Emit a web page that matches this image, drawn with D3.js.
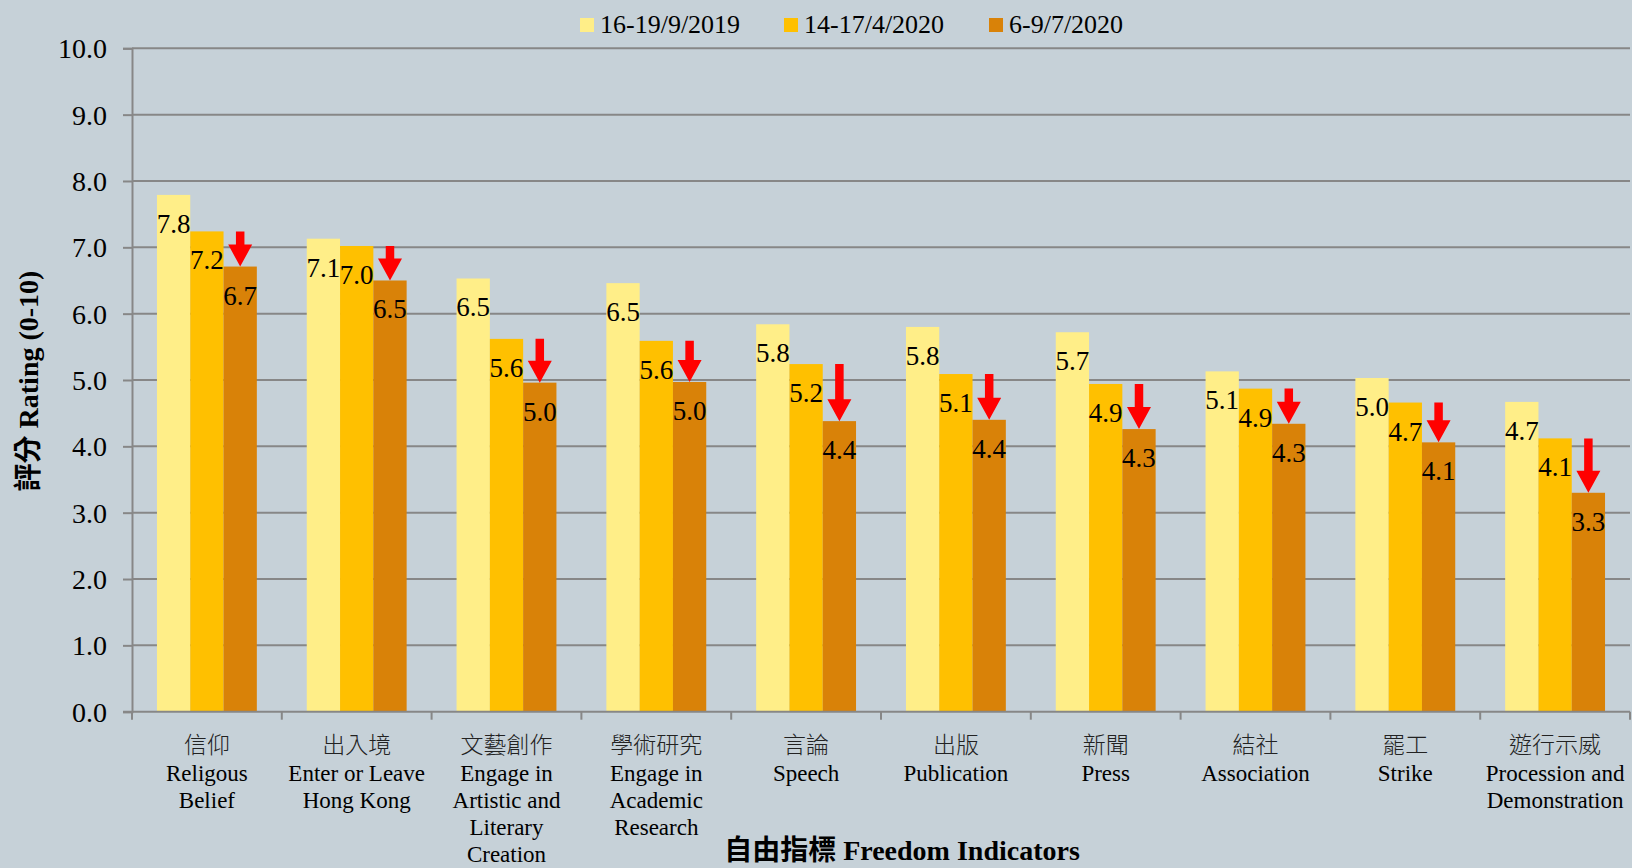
<!DOCTYPE html>
<html>
<head>
<meta charset="utf-8">
<script src="https://cdn.jsdelivr.net/npm/d3@7"></script>
<style>
  html, body { margin: 0; padding: 0; background: #c6d1d8; }
  svg { display: block; }
</style>
</head>
<body>
<div id="chart"></div>
<script>
// categories (zh / en lines)
const catZh = ['信仰', '出入境', '文藝創作', '學術研究', '言論', '出版', '新聞', '結社', '罷工', '遊行示威'];
const catEn = [
  ['Religous', 'Belief'],
  ['Enter or Leave', 'Hong Kong'],
  ['Engage in', 'Artistic and', 'Literary', 'Creation'],
  ['Engage in', 'Academic', 'Research'],
  ['Speech'],
  ['Publication'],
  ['Press'],
  ['Association'],
  ['Strike'],
  ['Procession and', 'Demonstration'],
];
const seriesNames = ['16-19/9/2019', '14-17/4/2020', '6-9/7/2020'];
const sep2019 = [7.79, 7.13, 6.53, 6.46, 5.84, 5.80, 5.72, 5.13, 5.03, 4.67];
const apr2020 = [7.24, 7.02, 5.62, 5.59, 5.24, 5.09, 4.94, 4.87, 4.66, 4.12];
const jul2020 = [6.71, 6.50, 4.96, 4.97, 4.38, 4.40, 4.26, 4.34, 4.06, 3.30];
const yTicks = [0, 1, 2, 3, 4, 5, 6, 7, 8, 9, 10];

const W = 1632, H = 868;
const COL = {
  bg: '#c6d1d8',
  bars: ['#ffee88', '#ffc000', '#d98208'],
  grid: '#878787',
  arrow: '#ff0000',
  text: '#000000',
};
const FONT = "'Liberation Serif', 'Times New Roman', 'Noto Sans CJK TC', serif";

const svg = d3.select('#chart').append('svg')
  .attr('width', W).attr('height', H)
  .style('font-family', FONT);

svg.append('rect').attr('width', W).attr('height', H).attr('fill', COL.bg);

const plot = { left: 132, right: 1630, top: 48.3, bottom: 711.7 };

const x0 = d3.scaleBand().domain(d3.range(catZh.length)).range([plot.left, plot.right]);
const bw = x0.bandwidth();
const x1 = d3.scaleBand().domain(d3.range(seriesNames.length)).range([bw / 6, bw * 5 / 6]);
const y = d3.scaleLinear().domain([0, 10]).range([plot.bottom, plot.top]);

const rows = catZh.map((c, i) => ({ i, vals: [sep2019[i], apr2020[i], jul2020[i]] }));

// Gridlines
svg.append('g').selectAll('line').data(yTicks.filter(t => t > 0)).enter().append('line')
  .attr('x1', plot.left).attr('x2', plot.right)
  .attr('y1', d => y(d)).attr('y2', d => y(d))
  .attr('stroke', COL.grid).attr('stroke-width', 2);

// Y axis
const yAxis = svg.append('g')
  .attr('transform', `translate(${plot.left},0)`)
  .call(d3.axisLeft(y).tickValues(yTicks).tickFormat(d3.format('.1f')).tickSize(9).tickPadding(16));
yAxis.select('.domain').attr('stroke', COL.grid).attr('stroke-width', 2);
yAxis.selectAll('.tick line').attr('stroke', COL.grid).attr('stroke-width', 2);
yAxis.selectAll('.tick text')
  .attr('font-size', 28).attr('font-family', FONT).attr('fill', COL.text).attr('dy', '0.34em');

// Bars
const groups = svg.append('g').selectAll('g').data(rows).enter().append('g')
  .attr('transform', d => `translate(${x0(d.i)},0)`);

groups.selectAll('rect').data(d => d.vals.map((v, k) => ({ v, k }))).enter().append('rect')
  .attr('x', d => x1(d.k))
  .attr('width', x1.bandwidth())
  .attr('y', d => y(d.v))
  .attr('height', d => y(0) - y(d.v))
  .attr('fill', d => COL.bars[d.k]);

// Value labels (inside end)
groups.selectAll('text.val').data(d => d.vals.map((v, k) => ({ v, k }))).enter().append('text')
  .attr('class', 'val')
  .attr('x', d => x1(d.k) + x1.bandwidth() / 2)
  .attr('y', d => y(d.v) + 38)
  .attr('text-anchor', 'middle')
  .attr('font-size', 27)
  .attr('fill', COL.text)
  .text(d => d3.format('.1f')(d.v));

// Red arrows: from Apr 2020 level down to Jul 2020 level, over the third bar
const headH = 22, headW = 24, shaftW = 8.5;
groups.append('path')
  .attr('fill', COL.arrow)
  .attr('d', d => {
    const cx = x1(2) + x1.bandwidth() / 2;
    const yTop = y(d.vals[1]), yTip = y(d.vals[2]);
    const yNeck = yTip - headH;
    return `M${cx - shaftW / 2},${yTop} L${cx + shaftW / 2},${yTop} L${cx + shaftW / 2},${yNeck}` +
      ` L${cx + headW / 2},${yNeck} L${cx},${yTip} L${cx - headW / 2},${yNeck}` +
      ` L${cx - shaftW / 2},${yNeck} Z`;
  });

// X axis line + ticks at category boundaries
svg.append('line')
  .attr('x1', plot.left - 9).attr('x2', plot.right)
  .attr('y1', y(0)).attr('y2', y(0))
  .attr('stroke', COL.grid).attr('stroke-width', 2);
svg.append('g').selectAll('line').data(d3.range(catZh.length + 1)).enter().append('line')
  .attr('x1', d => plot.left + d * bw).attr('x2', d => plot.left + d * bw)
  .attr('y1', y(0)).attr('y2', y(0) + 8)
  .attr('stroke', COL.grid).attr('stroke-width', 2);

// Category labels
const catG = svg.append('g').selectAll('g').data(rows).enter().append('g')
  .attr('transform', d => `translate(${x0(d.i) + bw / 2},0)`);
catG.append('text')
  .attr('y', 753)
  .attr('text-anchor', 'middle')
  .attr('font-size', 23)
  .attr('font-family', "'Noto Sans CJK TC', sans-serif")
  .attr('font-weight', 300)
  .attr('fill', '#222')
  .text(d => catZh[d.i]);
catG.selectAll('text.en').data(d => catEn[d.i]).enter().append('text')
  .attr('class', 'en')
  .attr('y', (d, j) => 781 + j * 27)
  .attr('text-anchor', 'middle')
  .attr('font-size', 23)
  .attr('fill', COL.text)
  .text(d => d);

// Axis titles
svg.append('text')
  .attr('transform', `translate(38,381) rotate(-90)`)
  .attr('text-anchor', 'middle')
  .attr('font-size', 28)
  .attr('font-weight', 'bold')
  .attr('fill', COL.text)
  .text('評分 Rating (0-10)');

svg.append('text')
  .attr('x', 902).attr('y', 860)
  .attr('text-anchor', 'middle')
  .attr('font-size', 28)
  .attr('font-weight', 'bold')
  .attr('fill', COL.text)
  .text('自由指標 Freedom Indicators');

// Legend
const legendX = [580, 784, 989];
const leg = svg.append('g').selectAll('g').data(seriesNames).enter().append('g')
  .attr('transform', (d, k) => `translate(${legendX[k]},0)`);
leg.append('rect')
  .attr('x', 0).attr('y', 18).attr('width', 14).attr('height', 14)
  .attr('fill', (d, k) => COL.bars[k]);
leg.append('text')
  .attr('x', 20).attr('y', 33)
  .attr('font-size', 26)
  .attr('fill', COL.text)
  .text(d => d);
</script>
</body>
</html>
